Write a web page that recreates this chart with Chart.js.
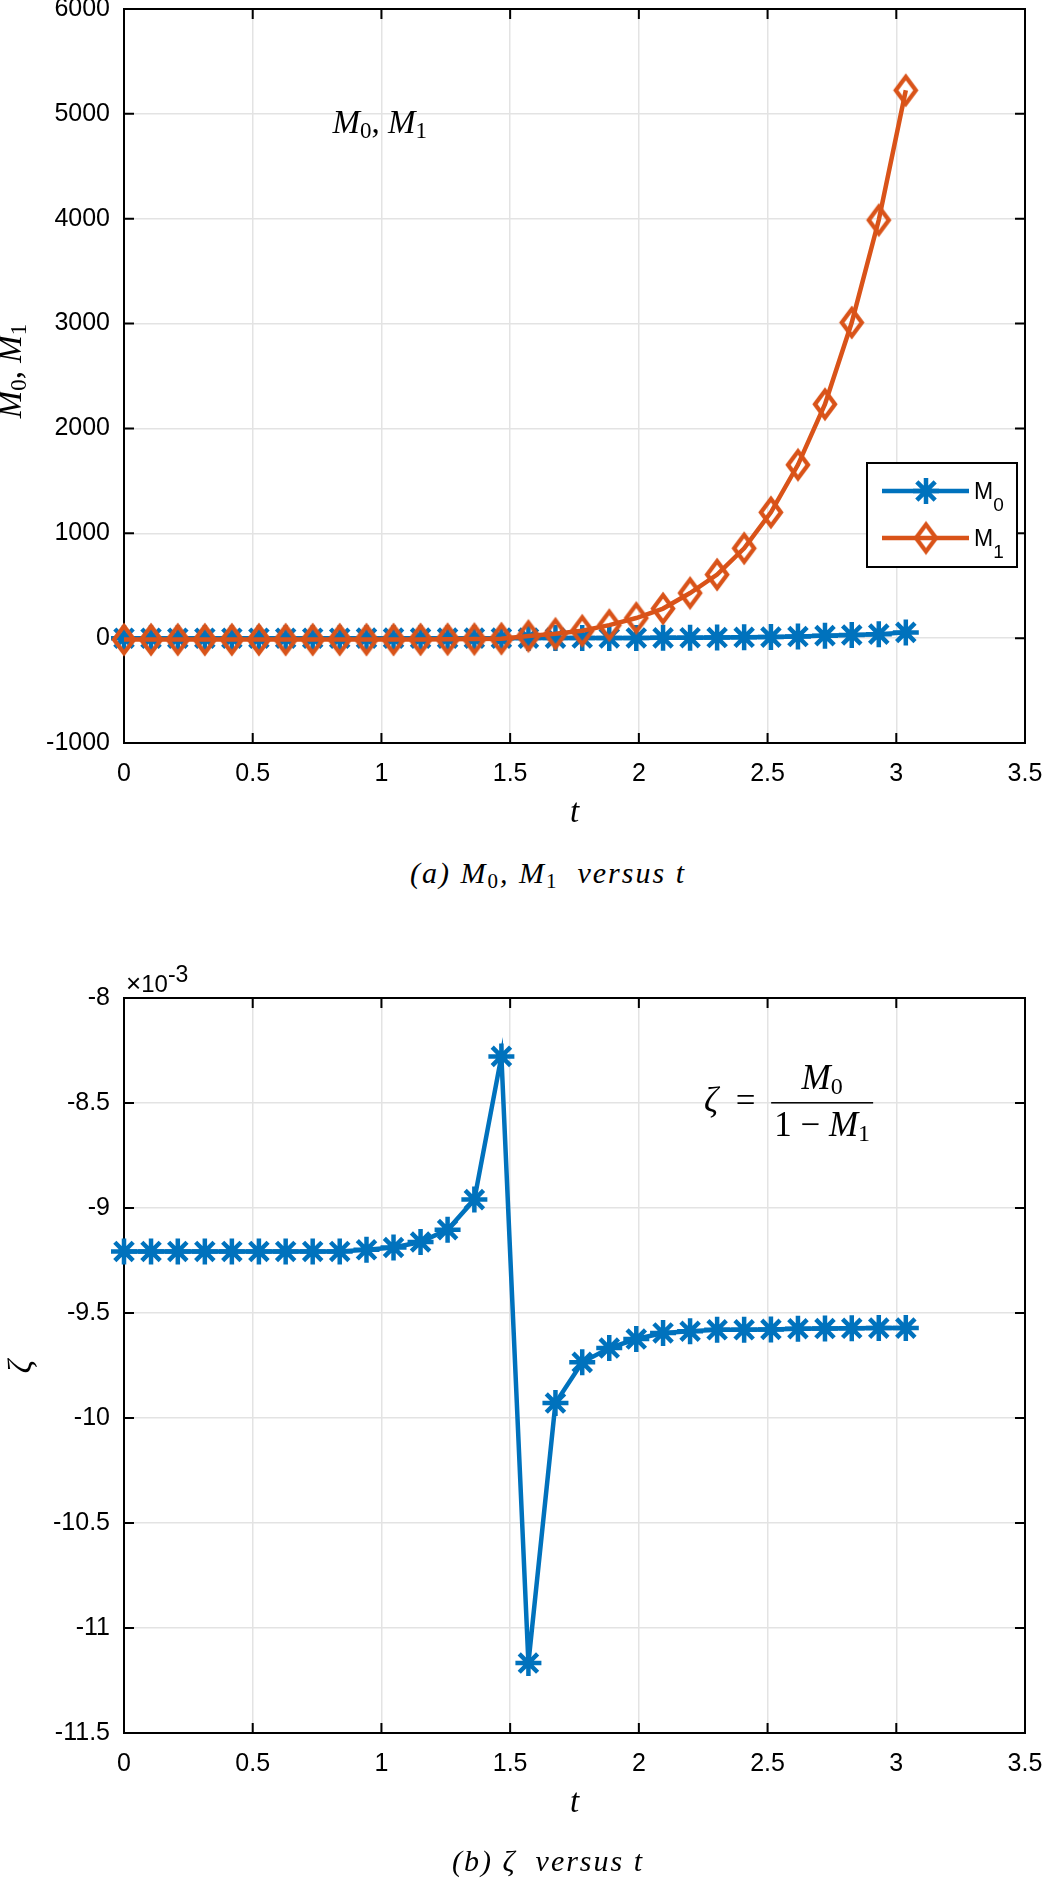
<!DOCTYPE html>
<html>
<head>
<meta charset="utf-8">
<script src="https://cdn.jsdelivr.net/npm/chart.js@4.4.0/dist/chart.umd.min.js"></script>
<style>
  body { margin: 0; background: #fff; }
  #page { position: relative; width: 1042px; height: 1878px; overflow: hidden; }
  canvas { position: absolute; left: -20px; }
  .cap { position: absolute; left: 0; width: 1096px; text-align: center; color: #000;
         font-family: "Liberation Serif", "Times New Roman", serif; font-style: italic;
         font-size: 30px; line-height: 30px; letter-spacing: 2px; white-space: pre; }
  .cap .sub { font-style: normal; font-size: 21px; position: relative; top: 5px; }
</style>
</head>
<body>
<div id="page">
  <canvas id="chartA" width="1082" height="860" style="top:-20px"></canvas>
  <canvas id="chartB" width="1082" height="920" style="top:940px"></canvas>
  <div class="cap" style="top:858px">(a) M<span class="sub">0</span>, M<span class="sub">1</span>  versus t</div>
  <div class="cap" style="top:1846px">(b) ζ  versus t</div>
</div>
<script>
// time samples
const tValues = [0, 0.105, 0.209, 0.314, 0.419, 0.524, 0.628, 0.733, 0.838, 0.942,
                 1.047, 1.152, 1.257, 1.361, 1.466, 1.571, 1.676, 1.780, 1.885, 1.990,
                 2.094, 2.199, 2.304, 2.409, 2.513, 2.618, 2.723, 2.827, 2.932, 3.037];

// (a) moments
const m0Values = [-0.15, -0.15, -0.15, -0.15, -0.15, -0.15, -0.15, -0.15, -0.15, -0.14,
                  -0.13, -0.12, -0.11, -0.08, -0.04, 0.2, 0.4, 0.7, 1.2, 1.8,
                  2.7, 4.1, 5.8, 8.2, 10, 15, 24, 30, 38, 55];
const m1Values = [-14, -14, -14, -14, -14, -14, -14, -14, -14, -14,
                  -13, -12, -11, -9, -5, 20, 41, 70, 124, 192,
                  282, 430, 606, 857, 1200, 1653, 2231, 3010, 3987, 5225];

// (b) zeta, in units of 1e-3
const zetaValues = [-9.207, -9.207, -9.207, -9.207, -9.207, -9.207, -9.207, -9.207, -9.207, -9.199,
                    -9.188, -9.162, -9.103, -8.960, -8.278, -11.167, -9.929, -9.735, -9.667, -9.624,
                    -9.595, -9.587, -9.580, -9.580, -9.578, -9.575, -9.574, -9.573, -9.572, -9.572];

const xRange = [0, 3.5, 0.5];
const yRangeA = [-1000, 6000, 1000];
const yRangeB = [-11.5, -8, 0.5];

const BLUE = '#0072BD';
const ORANGE = '#D95319';
const SANS = '"Liberation Sans", Arial, sans-serif';
const SERIF = '"Liberation Serif", "Times New Roman", serif';
const MI = 'italic 33px ' + SERIF;   // math italic
const MR = '33px ' + SERIF;          // math roman
const MS = '23px ' + SERIF;          // subscripts
const TICK_LEN = 10;

function pts(ys) {
  return tValues.map((t, i) => ({ x: t, y: ys[i] }));
}

// hollow diamond, a bit taller than wide like matlab's 'd' marker
function diamond(color, w, h, lw) {
  const c = document.createElement('canvas');
  c.width = w + 16; c.height = h + 16;
  const g = c.getContext('2d');
  const cx = c.width / 2, cy = c.height / 2;
  g.strokeStyle = color;
  g.lineWidth = lw;
  g.beginPath();
  g.moveTo(cx, cy - h / 2); g.lineTo(cx + w / 2, cy);
  g.lineTo(cx, cy + h / 2); g.lineTo(cx - w / 2, cy);
  g.closePath();
  g.stroke();
  return c;
}
const diamondMark = diamond(ORANGE, 20, 27, 4.3);

// draw a run of text pieces [text, font, dy]
function runs(ctx, parts, x, y, align) {
  let w = 0;
  parts.forEach(p => { ctx.font = p[1]; w += ctx.measureText(p[0]).width; });
  let cx = align === 'center' ? x - w / 2 : x;
  ctx.textAlign = 'left';
  ctx.textBaseline = 'alphabetic';
  parts.forEach(p => {
    ctx.font = p[1];
    ctx.fillText(p[0], cx, y + (p[2] || 0));
    cx += ctx.measureText(p[0]).width;
  });
  return w;
}

// box + inward ticks on all sides
const frame = {
  id: 'frame',
  beforeDatasetsDraw(chart) {
    const { ctx, chartArea: a } = chart;
    const xs = chart.scales.x, ys = chart.scales.y;
    ctx.save();
    ctx.strokeStyle = '#000';
    ctx.lineWidth = 2;
    ctx.beginPath();
    xs.ticks.forEach(tk => {
      const p = xs.getPixelForValue(tk.value);
      ctx.moveTo(p, a.bottom); ctx.lineTo(p, a.bottom - TICK_LEN);
      ctx.moveTo(p, a.top); ctx.lineTo(p, a.top + TICK_LEN);
    });
    ys.ticks.forEach(tk => {
      const p = ys.getPixelForValue(tk.value);
      ctx.moveTo(a.left, p); ctx.lineTo(a.left + TICK_LEN, p);
      ctx.moveTo(a.right, p); ctx.lineTo(a.right - TICK_LEN, p);
    });
    ctx.stroke();
    ctx.strokeRect(a.left, a.top, a.width, a.height);
    ctx.restore();
  }
};

function xTitle(ctx, a) {
  runs(ctx, [['t', MI]], (a.left + a.right) / 2, a.bottom + 79, 'center');
}

function options(yr, padTop, xHeight) {
  return {
    responsive: false,
    animation: false,
    events: [],
    layout: { padding: { left: 0, right: 37, top: padTop, bottom: 0 } },
    plugins: { legend: { display: false }, tooltip: { enabled: false } },
    scales: {
      x: {
        type: 'linear', min: xRange[0], max: xRange[1],
        afterFit: s => { s.height = xHeight; },
        ticks: { stepSize: xRange[2], autoSkip: false, maxRotation: 0, padding: 16, color: '#000',
                 font: { family: SANS, size: 25 }, callback: v => String(v) },
        grid: { color: '#e3e3e3', lineWidth: 1.5, drawTicks: false },
        border: { display: false }
      },
      y: {
        type: 'linear', min: yr[0], max: yr[1],
        afterFit: s => { s.width = 144; },
        ticks: { stepSize: yr[2], autoSkip: false, padding: 14, color: '#000',
                 font: { family: SANS, size: 25 }, callback: v => String(v) },
        grid: { color: '#e3e3e3', lineWidth: 1.5, drawTicks: false },
        border: { display: false }
      }
    }
  };
}

const legendItems = [
  { color: BLUE, style: 'star', radius: 13, sub: '0' },
  { color: ORANGE, style: diamondMark, radius: 13, sub: '1' }
];

const notesA = {
  id: 'notesA',
  afterDraw(chart) {
    const { ctx, chartArea: a, scales: { x, y } } = chart;
    ctx.save();
    ctx.fillStyle = '#000';
    // annotation inside the axes
    runs(ctx, [['M', MI], ['0', MS, 5], [', ', MR], ['M', MI], ['1', MS, 5]],
         x.getPixelForValue(0.81), y.getPixelForValue(4820), 'left');
    xTitle(ctx, a);
    // legend
    const L = a.right - 158, T = a.top + 454;
    ctx.fillStyle = '#fff';
    ctx.fillRect(L, T, 150, 104);
    ctx.strokeStyle = '#000';
    ctx.lineWidth = 2;
    ctx.strokeRect(L, T, 150, 104);
    legendItems.forEach((it, k) => {
      const yy = T + 28 + k * 47;
      ctx.strokeStyle = it.color;
      ctx.lineWidth = 4.5;
      ctx.beginPath(); ctx.moveTo(L + 15, yy); ctx.lineTo(L + 102, yy); ctx.stroke();
      ctx.lineWidth = 4.5;
      ctx.fillStyle = it.color;
      Chart.helpers.drawPoint(ctx, { pointStyle: it.style, radius: it.radius, borderWidth: 4.5, rotation: 0 }, L + 59, yy);
      ctx.fillStyle = '#000';
      runs(ctx, [['M', '23px ' + SANS], [it.sub, '19px ' + SANS, 12]], L + 107, yy + 8, 'left');
    });
    // y title
    ctx.fillStyle = '#000';
    ctx.translate(a.left - 103, (a.top + a.bottom) / 2 - 5);
    ctx.rotate(-Math.PI / 2);
    runs(ctx, [['M', MI], ['0', MS, 5], [', ', MR], ['M', MI], ['1', MS, 5]], 0, 0, 'center');
    ctx.restore();
  }
};

const FI = 'italic 35px ' + SERIF;
const FR = '35px ' + SERIF;
const FS = '24px ' + SERIF;

const notesB = {
  id: 'notesB',
  afterDraw(chart) {
    const { ctx, chartArea: a, scales: { x, y } } = chart;
    ctx.save();
    ctx.fillStyle = '#000';
    // exponent marker
    runs(ctx, [['\u00d7', '26px ' + SANS], ['10', '24px ' + SANS], ['-3', '23px ' + SANS, -10]], a.left + 2, a.top - 6, 'left');
    // formula
    const bx = x.getPixelForValue(2.712), by = y.getPixelForValue(-8.499);
    runs(ctx, [['\u03b6', FI], ['  =', FR]], x.getPixelForValue(2.253), by + 9, 'left');
    ctx.fillRect(bx - 51, by - 0.75, 102, 1.5);
    runs(ctx, [['M', FI], ['0', FS, 5]], bx, by - 14, 'center');
    runs(ctx, [['1 \u2212 ', FR], ['M', FI], ['1', FS, 5]], bx, by + 33, 'center');
    xTitle(ctx, a);
    // y title
    ctx.translate(a.left - 93, (a.top + a.bottom) / 2 + 1);
    ctx.rotate(-Math.PI / 2);
    runs(ctx, [['\u03b6', MI]], 0, 0, 'center');
    ctx.restore();
  }
};

new Chart(document.getElementById('chartA'), {
  type: 'line',
  data: {
    datasets: [
      { label: 'M0', data: pts(m0Values), order: 2, borderColor: BLUE, borderWidth: 4.5,
        pointStyle: 'star', pointRadius: 13, pointBorderWidth: 4.5,
        pointBorderColor: BLUE, pointBackgroundColor: BLUE, clip: false },
      { label: 'M1', data: pts(m1Values), order: 1, borderColor: ORANGE, borderWidth: 4.5,
        pointStyle: diamondMark, pointRadius: 13, pointBorderWidth: 4.5,
        pointBorderColor: ORANGE, pointBackgroundColor: 'rgba(0,0,0,0)', clip: false }
    ]
  },
  options: options(yRangeA, 28, 97),
  plugins: [frame, notesA]
});

new Chart(document.getElementById('chartB'), {
  type: 'line',
  data: {
    datasets: [
      { label: 'zeta', data: pts(zetaValues), borderColor: BLUE, borderWidth: 4.5,
        pointStyle: 'star', pointRadius: 13, pointBorderWidth: 4.5,
        pointBorderColor: BLUE, pointBackgroundColor: BLUE, clip: false }
    ]
  },
  options: options(yRangeB, 58, 127),
  plugins: [frame, notesB]
});
</script>
</body>
</html>
